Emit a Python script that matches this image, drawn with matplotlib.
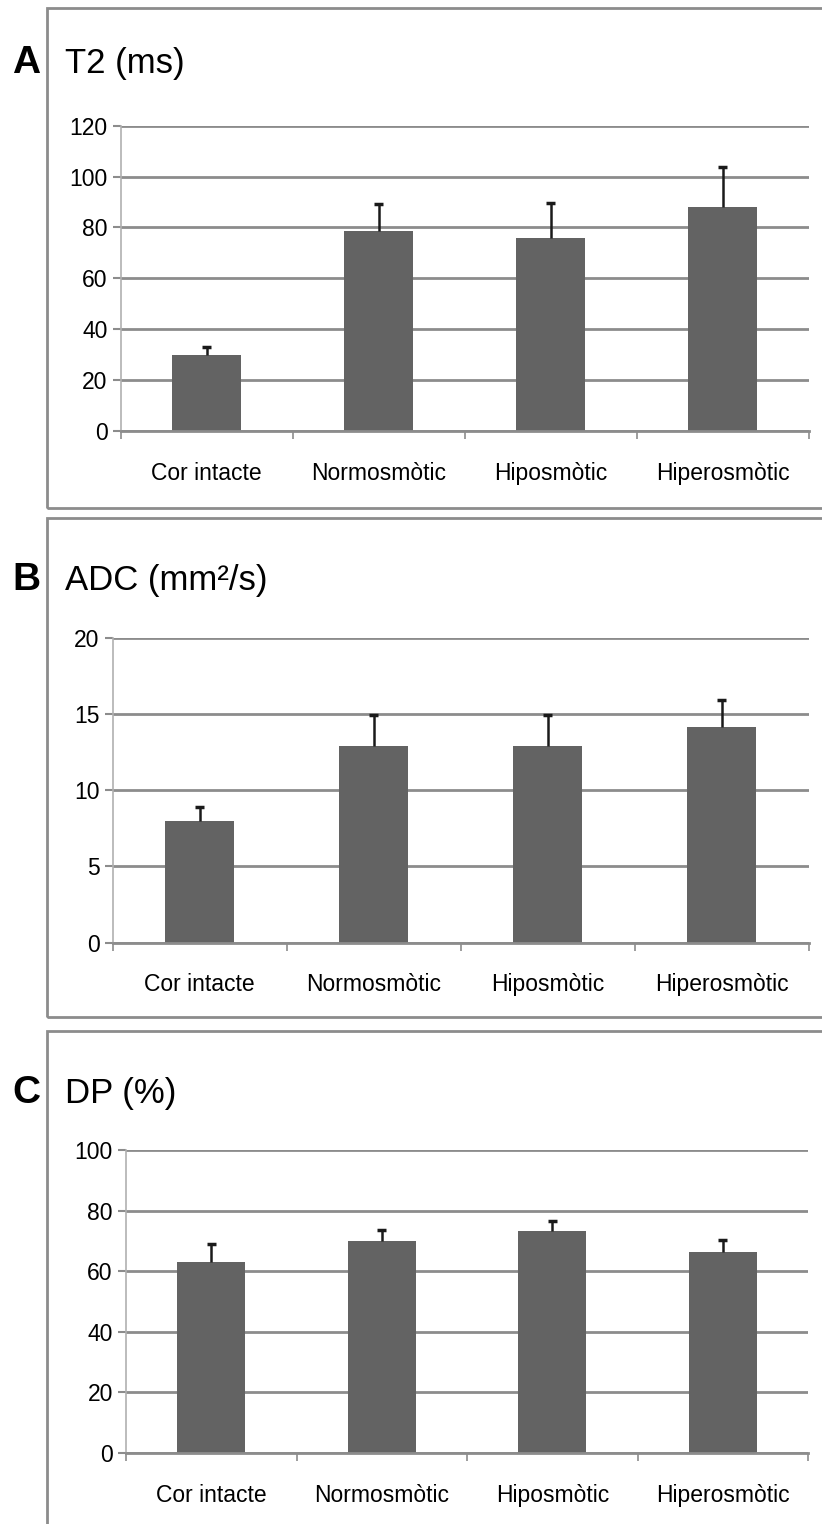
import numpy as np
import matplotlib.pyplot as plt
from matplotlib.patches import Rectangle

plt.rcParams['font.family'] = ['Liberation Sans', 'DejaVu Sans']

categories = ["Cor intacte", "Normosmòtic", "Hiposmòtic", "Hiperosmòtic"]

t2_mean = [29.8, 78.5, 75.8, 88.2]
t2_err = [3.3, 10.7, 14.0, 15.6]

adc_mean = [8.0, 12.9, 12.9, 14.15]
adc_err = [0.9, 2.05, 2.05, 1.75]

dp_mean = [63.1, 70.0, 73.3, 66.4]
dp_err = [6.0, 3.7, 3.2, 3.8]

W, H = 822, 1524
fig = plt.figure(figsize=(W / 100, H / 100), dpi=100)


def fx(x):
    return x / W


def fy(y):
    return 1 - y / H


# panel frames (pixels: left, top, right, bottom)
frames = [(47, 7.5, 830, 508), (47, 518, 830, 1017), (47, 1031, 830, 1540)]
for l, t, r, b in frames:
    fig.patches.append(Rectangle((fx(l), fy(b)), fx(r - l), fy(t) - fy(b),
                                 transform=fig.transFigure, fill=False,
                                 edgecolor="#8c8c8c", linewidth=2, zorder=0))

panels = [
    dict(letter="A", title="T2 (ms)", mean=t2_mean, err=t2_err, ymax=120, step=20,
         box=(120.6, 125.7, 808.6, 431), ty=63),
    dict(letter="B", title="ADC (mm²/s)", mean=adc_mean, err=adc_err, ymax=20, step=5,
         box=(112.7, 637.7, 808.6, 942.7), ty=580),
    dict(letter="C", title="DP (%)", mean=dp_mean, err=dp_err, ymax=100, step=20,
         box=(126, 1150, 808, 1453), ty=1093),
]

for p in panels:
    l, t, r, b = p["box"]
    ax = fig.add_axes([fx(l), fy(b), fx(r - l), fy(t) - fy(b)])
    x = np.arange(len(categories)) + 0.5
    mean = np.array(p["mean"])
    top = mean + np.array(p["err"])
    ax.bar(x, mean, width=0.4, color="#636363", zorder=2)
    # one-sided (upper) error bars
    ax.vlines(x, mean, top, color="#1a1a1a", linewidth=1.8, zorder=3)
    ax.hlines(top, x - 0.025, x + 0.025, color="#1a1a1a", linewidth=2.5, zorder=3)
    ax.set_xlim(0, len(categories))
    ax.set_ylim(0, p["ymax"])
    ax.set_yticks(np.arange(0, p["ymax"] + 1, p["step"]))
    ax.yaxis.grid(True, color="#8c8c8c", linewidth=2)
    ax.set_axisbelow(True)
    for s in ["top", "right"]:
        ax.spines[s].set_visible(False)
    ax.spines["left"].set_color("#b0b0b0")
    ax.spines["left"].set_linewidth(1.2)
    ax.spines["bottom"].set_color("#8c8c8c")
    ax.spines["bottom"].set_linewidth(2)
    ax.spines["left"].set_zorder(1)
    ax.set_xticks(np.arange(len(categories) + 1))
    ax.set_xticklabels([])
    ax.set_xticks(x, minor=True)
    ax.set_xticklabels(categories, minor=True)
    ax.tick_params(axis="x", which="major", direction="out", length=6, color="#8c8c8c", width=1.2)
    ax.tick_params(axis="x", which="minor", length=0, pad=22, labelsize=16.5)
    ax.tick_params(axis="y", direction="out", length=5.5, color="#8c8c8c", width=1.5,
                   labelsize=16.5, pad=4)
    fig.text(fx(65), fy(p["ty"]), p["title"], fontsize=25, va="center", ha="left")
    fig.text(fx(12), fy(p["ty"]), p["letter"], fontsize=28, fontweight="bold",
             va="center", ha="left")

fig.savefig("out.png", dpi=100)
